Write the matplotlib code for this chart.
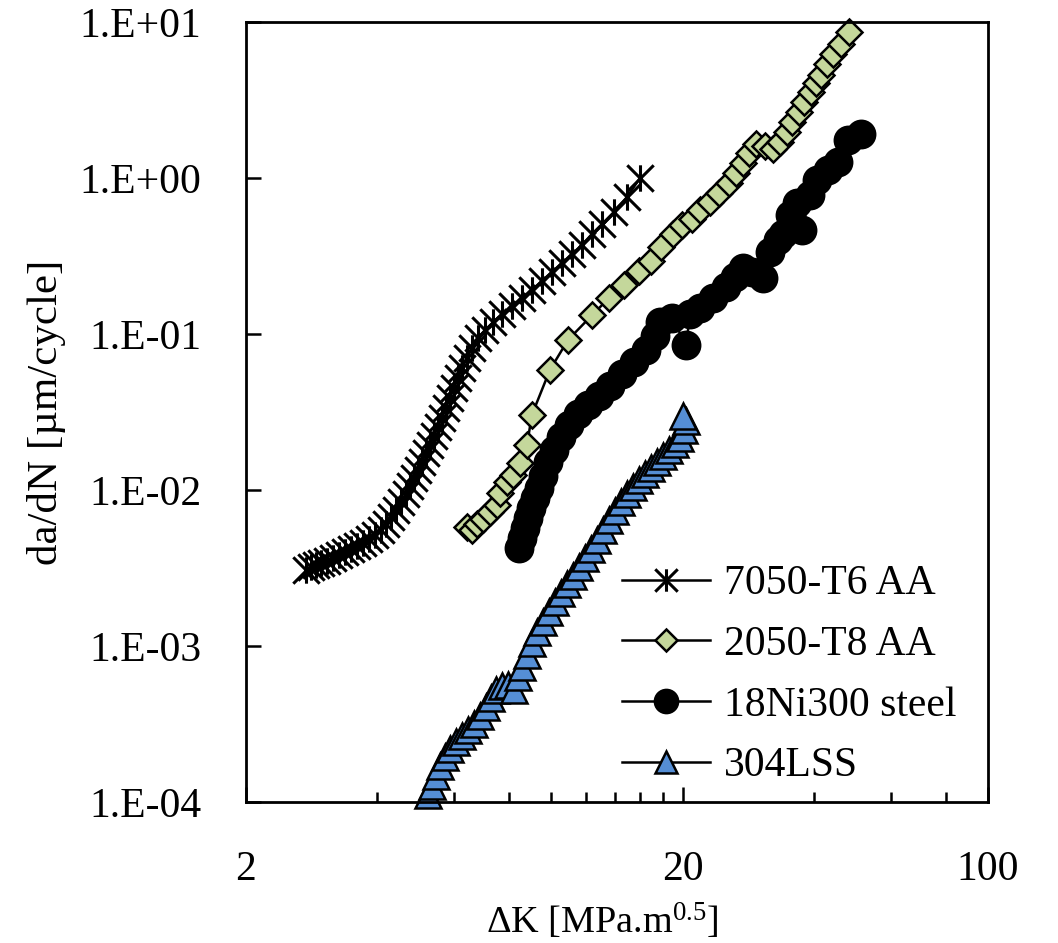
import numpy as np
import matplotlib.pyplot as plt
from matplotlib.path import Path
from matplotlib.ticker import FixedLocator, FixedFormatter, NullLocator

plt.rcParams['font.family'] = 'Liberation Serif'
plt.rcParams['mathtext.fontset'] = 'custom'
plt.rcParams['mathtext.rm'] = 'Liberation Serif'
plt.rcParams['mathtext.default'] = 'regular'

fig_name = "out.png"

##################### DATA #####################
# 7050-T6 AA
dk_7050 = [2.74, 2.82, 2.89, 2.97, 3.07, 3.16, 3.27, 3.37, 3.48, 3.59, 3.71, 3.83, 3.95,
           4.08, 4.18, 4.30, 4.41, 4.53, 4.65, 4.75, 4.85, 4.95, 5.06, 5.17, 5.28, 5.39,
           5.50, 5.62, 5.74, 5.86, 5.99, 6.12, 6.25, 6.41, 6.59, 6.80, 7.05, 7.36, 7.71,
           8.13, 8.57, 9.03, 9.52, 10.04, 10.58, 11.16, 11.76, 12.40, 13.07, 13.92, 14.91, 15.97]
da_7050 = [0.00307, 0.00321, 0.00330, 0.00340, 0.00351, 0.00366, 0.00383, 0.00400, 0.00418,
           0.00438, 0.00457, 0.00485, 0.00515, 0.00554, 0.00606, 0.00671, 0.00744, 0.00838,
           0.00943, 0.0106, 0.0119, 0.0134, 0.0151, 0.0173, 0.0194, 0.0222, 0.0253, 0.0289,
           0.0335, 0.0389, 0.0451, 0.0522, 0.0605, 0.0702, 0.0813, 0.0943, 0.106, 0.119,
           0.134, 0.151, 0.170, 0.191, 0.219, 0.250, 0.285, 0.326, 0.372, 0.438, 0.507,
           0.606, 0.755, 1.00]

# 2050-T8 AA
dk_2050 = [6.41, 6.59, 6.76, 6.98, 7.24, 7.51, 7.63, 7.92, 8.18, 8.48, 8.80, 9.03, 9.93,
           10.92, 12.40, 13.56, 14.68, 15.88, 16.92, 17.84, 19.00, 19.93, 21.01, 21.91,
           23.10, 24.22, 25.53, 26.49, 27.49, 28.37, 29.43, 30.86, 32.19, 33.42, 34.67,
           35.60, 36.94, 37.93, 39.35, 40.40, 41.48, 42.81, 44.19, 46.09, 48.07]
da_2050 = [0.00579, 0.00554, 0.00606, 0.00652, 0.00723, 0.00801, 0.00957, 0.01125, 0.01248,
           0.0149, 0.0194, 0.0303, 0.0588, 0.0915, 0.132, 0.170, 0.206, 0.253, 0.294, 0.361,
           0.438, 0.500, 0.546, 0.624, 0.702, 0.801, 0.929, 1.077, 1.248, 1.446, 1.652, 1.603,
           1.534, 1.701, 1.972, 2.286, 2.649, 3.07, 3.56, 4.06, 4.57, 5.38, 6.24, 7.23, 8.63]

# 18Ni300 steel
dk_18ni = [8.43, 8.57, 8.71, 8.85, 8.99, 9.18, 9.38, 9.57, 9.83, 10.15, 10.53, 10.98, 11.51,
           12.14, 12.86, 13.63, 14.52, 15.47, 16.48, 17.29, 17.75, 18.90, 20.36, 20.79,
           21.92, 23.47, 25.13, 26.36, 27.49, 28.83, 30.54, 31.70, 33.06, 33.94, 35.23,
           36.55, 37.53, 39.14, 40.61, 43.03, 45.37, 47.81, 51.21]
da_18ni = [0.00425, 0.00493, 0.00571, 0.00661, 0.00766, 0.00889, 0.0103, 0.0123, 0.0151,
           0.0180, 0.0219, 0.0261, 0.0307, 0.0351, 0.0400, 0.0464, 0.0554, 0.0661, 0.0790,
           0.0971, 0.119, 0.127, 0.0850, 0.134, 0.147, 0.170, 0.200, 0.232, 0.265, 0.250,
           0.229, 0.335, 0.400, 0.438, 0.579, 0.691, 0.464, 0.778, 0.971, 1.13, 1.27, 1.75, 1.91]

# 304L SS
dk_304 = [5.22, 5.33, 5.45, 5.56, 5.71, 5.87, 6.05, 6.25, 6.45, 6.66, 6.87, 7.09, 7.28,
          7.47, 7.71, 7.96, 8.22, 8.39, 8.57, 8.80, 9.03, 9.28, 9.57, 9.88, 10.20, 10.53,
          10.87, 11.21, 11.57, 11.95, 12.33, 12.73, 13.14, 13.56, 14.00, 14.45, 14.91,
          15.39, 15.88, 16.40, 16.92, 17.47, 18.03, 18.61, 19.21, 19.72, 20.14, 20.36, 20.03]
da_304 = [0.000111, 0.000127, 0.000147, 0.000170, 0.000194, 0.000219, 0.000242, 0.000265,
          0.000289, 0.000316, 0.000356, 0.000406, 0.000464, 0.000522, 0.000554, 0.000562,
          0.000522, 0.000633, 0.000733, 0.000876, 0.00105, 0.00123, 0.00143, 0.00165,
          0.00191, 0.00219, 0.00250, 0.00281, 0.00321, 0.00366, 0.00418, 0.00478, 0.00554,
          0.00642, 0.00733, 0.00838, 0.00943, 0.0105, 0.0116, 0.0127, 0.0138, 0.0151,
          0.0165, 0.0180, 0.0197, 0.0215, 0.0242, 0.0277, 0.0298]

labels = ["7050-T6 AA", "2050-T8 AA", "18Ni300 steel", "304LSS"]

x_major = [2, 20, 100]
x_minor = [4, 6, 8, 10, 12, 14, 16, 18, 40, 60, 80]
x_ticklabels = ["2", "20", "100"]
y_major = [1e-4, 1e-3, 1e-2, 1e-1, 1e0, 1e1]
y_ticklabels = ["1.E-04", "1.E-03", "1.E-02", "1.E-01", "1.E+00", "1.E+01"]

########################### PLOT CONFIGURATION ###########################
fs = 30
star = Path([(-1, -1), (1, 1), (-1, 1), (1, -1), (0, -1), (0, 1)],
            [Path.MOVETO, Path.LINETO] * 3)

fig = plt.figure(figsize=(10.58, 9.43), dpi=100)
ax = fig.add_axes([0.2325, 0.1495, 0.7013, 0.8272])
ax.set_xscale('log')
ax.set_yscale('log')

ax.plot(dk_7050, da_7050, color='black', lw=1.8, marker=star, ms=19, mew=2.2,
        mfc='none', mec='black', clip_on=False, label=labels[0])
ax.plot(dk_2050, da_2050, color='black', lw=1.8, marker='D', ms=13.5, mew=1.8,
        mfc='#C4D79B', mec='black', clip_on=False, label=labels[1])
ax.plot(dk_18ni, da_18ni, color='black', lw=1.8, marker='o', ms=20, mew=1.5,
        mfc='black', mec='black', clip_on=False, label=labels[2])
ax.plot(dk_304, da_304, color='black', lw=1.8, marker='^', ms=19, mew=1.8,
        mfc='#558ED5', mec='black', clip_on=False, label=labels[3])

#X-AXIS
ax.set_xlim(2, 100)
ax.xaxis.set_major_locator(FixedLocator(x_major))
ax.xaxis.set_major_formatter(FixedFormatter(x_ticklabels))
ax.xaxis.set_minor_locator(FixedLocator(x_minor))
ax.xaxis.set_minor_formatter(FixedFormatter([""] * len(x_minor)))
ax.set_xlabel(r'$\Delta$K [MPa.m$^{0.5}$]', fontsize=27.5)
ax.xaxis.set_label_coords(0.48, -0.127)
ax.xaxis.label.set_va('top')

#Y-AXIS
ax.set_ylim(1e-4, 10)
ax.yaxis.set_major_locator(FixedLocator(y_major))
ax.yaxis.set_major_formatter(FixedFormatter(y_ticklabels))
ax.yaxis.set_minor_locator(NullLocator())
ax.set_ylabel('da/dN [µm/cycle]', fontsize=31, labelpad=10)

ax.tick_params(axis='both', which='both', direction='in', top=False, right=False,
               labelsize=fs, width=1.8)
ax.tick_params(axis='y', which='major', length=11, pad=32)
ax.tick_params(axis='x', which='major', length=11, pad=35)
ax.tick_params(axis='x', which='minor', length=7)
for s in ax.spines.values():
    s.set_linewidth(2)

ax.legend(loc='upper left', bbox_to_anchor=(0.507, 0.304), frameon=False, fontsize=fs,
          handlelength=2.1, handletextpad=0.35, labelspacing=0.53, borderpad=0,
          borderaxespad=0, markerscale=0.85)

############################ OUTPUT ############################
plt.savefig(fig_name, dpi=100, facecolor='w')
